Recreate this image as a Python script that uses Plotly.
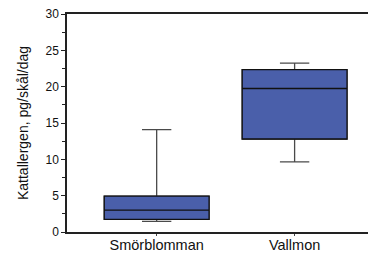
import plotly.graph_objects as go

categories = ["Smörblomman", "Vallmon"]
lower_whisker = [1.45, 9.65]
q1_values = [1.75, 12.8]
median_values = [3.0, 19.75]
q3_values = [4.95, 22.35]
upper_whisker = [14.1, 23.25]

y_ticks = [0, 5, 10, 15, 20, 25, 30]

# page has an 8px body margin, so the figure is sized to fit the window
fig = go.Figure()
# whiskers (grey)
fig.add_trace(go.Box(
    x=categories,
    q1=q1_values,
    median=median_values,
    q3=q3_values,
    lowerfence=lower_whisker,
    upperfence=upper_whisker,
    fillcolor="#4A5FAA",
    line=dict(color="#4a4a4a", width=1.3),
    width=0.76,
    whiskerwidth=0.28,
    boxpoints=False,
    hoverinfo="skip",
))
# box body with black outline and median on top
fig.add_trace(go.Box(
    x=categories,
    q1=q1_values,
    median=median_values,
    q3=q3_values,
    lowerfence=q1_values,
    upperfence=q3_values,
    fillcolor="#4A5FAA",
    line=dict(color="#111111", width=1.3),
    width=0.76,
    whiskerwidth=0,
    boxpoints=False,
    hoverinfo="skip",
))

fig.update_layout(
    template="none",
    boxmode="overlay",
    width=368, height=247,
    margin=dict(l=59, r=0, t=6, b=23, autoexpand=False),
    paper_bgcolor="white", plot_bgcolor="white",
    showlegend=False,
    font=dict(family="Liberation Sans, Arial, sans-serif", color="#111"),
    xaxis=dict(
        range=[-0.65, 1.59],
        showline=True, linecolor="#222", linewidth=1.5, mirror=True,
        ticks="outside", ticklen=2, tickcolor="#444",
        tickfont=dict(size=14.5), showgrid=False, zeroline=False,
        ticklabelstandoff=-3,
        automargin=False,
    ),
    yaxis=dict(
        range=[0, 30],
        tickvals=y_ticks,
        showline=True, linecolor="#222", linewidth=1.5,
        ticks="outside", ticklen=4, tickcolor="#222",
        tickfont=dict(size=12),
        ticklabeloverflow="allow",
        minor=dict(dtick=2.5, ticks="outside", ticklen=3, tickcolor="#222"),
        showgrid=False, zeroline=False, automargin=False,
        title=dict(text="Kattallergen, pg/skål/dag", font=dict(size=14), standoff=14),
    ),
)

fig.write_html("out.html")
